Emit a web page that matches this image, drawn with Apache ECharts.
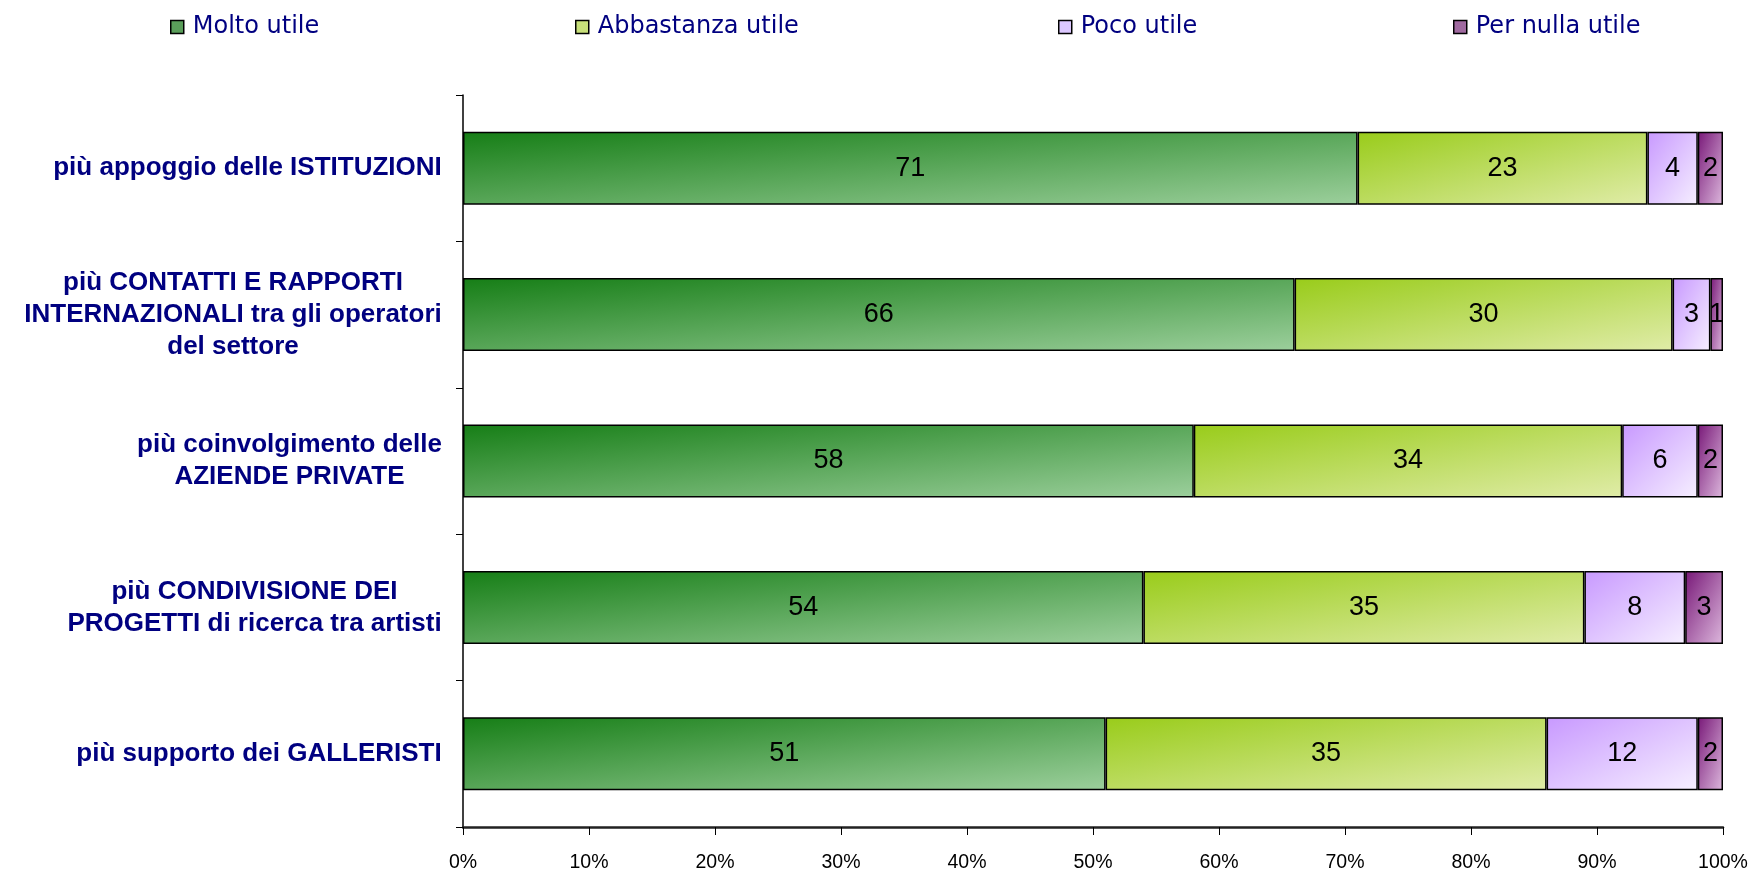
<!DOCTYPE html>
<html><head><meta charset="utf-8">
<script src="https://cdn.jsdelivr.net/npm/echarts@6/dist/echarts.min.js"></script>
<style>html,body{margin:0;padding:0;background:#fff}#c{width:1753px;height:873px}</style>
</head><body><div id="c"></div>
<script>
const categories = [
  'più appoggio delle ISTITUZIONI',
  'più CONTATTI E RAPPORTI\nINTERNAZIONALI tra gli operatori\ndel settore',
  'più coinvolgimento delle\nAZIENDE PRIVATE',
  'più CONDIVISIONE DEI\nPROGETTI di ricerca tra artisti',
  'più supporto dei GALLERISTI'
];
const seriesNames = ['Molto utile', 'Abbastanza utile', 'Poco utile', 'Per nulla utile'];
const molto = [71, 66, 58, 54, 51];
const abbastanza = [23, 30, 34, 35, 35];
const poco = [4, 3, 6, 8, 12];
const nulla = [2, 1, 2, 3, 2];
const xTicks = [0, 10, 20, 30, 40, 50, 60, 70, 80, 90, 100];

const grads = [
  ['#167e16', '#9ccf9c'],
  ['#99cc1a', '#e0eca8'],
  ['#c899ff', '#f6efff'],
  ['#781878', '#ddb8dd']
];
const legendFill = ['#5a9e5a', '#c8e07a', '#dcc8ff', '#a06aa0'];
const values = [molto, abbastanza, poco, nulla];
const legendLeft = [165, 570, 1053, 1448];

// style constants
const PLOT_W = 1260, BAR_H = 73;
const LABEL_SIZE = 26;
const LABEL_FONT = 'bold ' + LABEL_SIZE + 'px "Liberation Sans", Arial';

// Box-space diagonal gradient (like Office): t = (x/w + y/h)/2
function boxGrad(val, c0, c1) {
  const w = val / 100 * PLOT_W, h = BAR_H;
  const d = w * w + h * h;
  return new echarts.graphic.LinearGradient(0, 0, 2 * h * h / d, 2 * w * w / d, [
    {offset: 0, color: c0}, {offset: 1, color: c1}
  ]);
}

// rich styles so multi-line labels are centred but right-anchored
const ctx = document.createElement('canvas').getContext('2d');
ctx.font = LABEL_FONT;
const rich = {};
categories.forEach((c, i) => {
  const w = Math.max(...c.split('\n').map(s => ctx.measureText(s).width));
  rich['r' + i] = {width: Math.ceil(w) + 2, align: 'center', fontFamily: 'Liberation Sans, Arial', fontWeight: 'bold', fontSize: LABEL_SIZE, color: '#000080', lineHeight: 32};
});

const chart = echarts.init(document.getElementById('c'));
chart.setOption({
  animation: false,
  backgroundColor: '#fff',
  legend: seriesNames.map((n, i) => ({
    data: [{name: n, itemStyle: {color: legendFill[i], borderColor: '#000', borderWidth: 1.5}}],
    left: legendLeft[i], top: 10,
    itemWidth: 13, itemHeight: 13, itemGap: 4,
    icon: 'rect',
    textStyle: {fontFamily: 'DejaVu Sans', fontSize: 24, color: '#000080', padding: [0, 0, 0, 4]}
  })),
  grid: {left: 463, right: 30, top: 95, bottom: 42, containLabel: false},
  xAxis: {
    type: 'value', min: 0, max: 100, interval: 10,
    axisLine: {show: true, lineStyle: {color: '#222', width: 2.5}},
    axisTick: {show: true, length: 8, lineStyle: {color: '#000'}},
    splitLine: {show: false},
    axisLabel: {formatter: v => v + '%', fontFamily: 'Liberation Sans, Arial', fontSize: 19.5, color: '#000', margin: 26}
  },
  yAxis: {
    type: 'category', data: categories, inverse: true,
    axisLine: {show: true, lineStyle: {color: '#000', width: 1.5}},
    axisTick: {show: true, length: 7, lineStyle: {color: '#000'}},
    axisLabel: {
      margin: 20, align: 'right', lineHeight: 32,
      fontFamily: 'Liberation Sans, Arial', fontWeight: 'bold', fontSize: LABEL_SIZE, color: '#000080',
      rich: rich,
      formatter: (v, idx) => v.split('\n').map(s => '{r' + idx + '|' + s + '}').join('\n')
    }
  },
  series: seriesNames.map((n, i) => ({
    name: n, type: 'bar', stack: 'tot', barWidth: BAR_H,
    data: values[i].map(v => ({value: v, itemStyle: {color: boxGrad(v, grads[i][0], grads[i][1])}})),
    itemStyle: {color: grads[i][0], borderColor: '#000', borderWidth: 1.5},
    label: {show: true, position: 'inside', color: '#000', fontFamily: 'Liberation Sans, Arial', fontSize: 27}
  }))
});
</script></body></html>
